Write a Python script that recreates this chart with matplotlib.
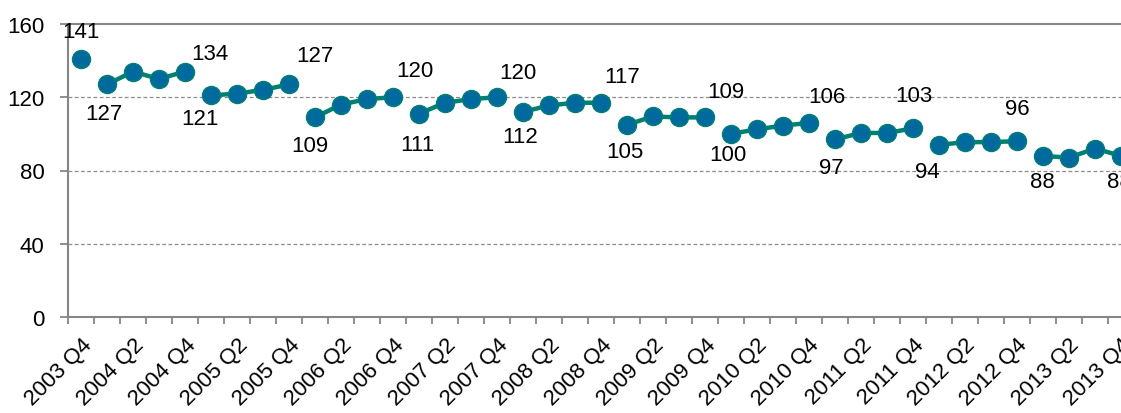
import matplotlib
matplotlib.use("Agg")
import matplotlib.pyplot as plt

# quarters 2003 Q4 .. 2013 Q4
quarters = ['2003 Q4'] + [f'{y} Q{q}' for y in range(2004, 2014) for q in range(1, 5)]
values = [141,
          127, 134, 130, 134,
          121, 122, 124, 127,
          109, 116, 119, 120,
          111, 117, 119, 120,
          112, 115.5, 117, 117,
          105, 109.5, 109, 109,
          100, 102.5, 104.5, 106,
          97, 100.5, 100.5, 103,
          94, 95.5, 95.5, 96,
          88, 87, 92, 88]

# segments: each calendar year drawn as its own line
segments = [(0, 1)] + [(1 + 4 * k, 5 + 4 * k) for k in range(10)]

# labelled points (index) and label offsets in pixels
label_idx = [0, 1, 4, 5, 8, 9, 12, 13, 16, 17, 20, 21, 24, 25, 28, 29, 32, 33, 36, 37, 40]
label_off = [(0, 27), (-3, -29), (25, 18), (-11, -23), (26, 29), (-5, -28),
             (22, 27), (-2, -31), (21, 25), (-3, -25), (21, 26), (-2, -27),
             (21, 26), (-3, -21), (18, 26), (-4, -28), (1, 33), (-12, -27),
             (0, 33), (-1, -26), (-2, -26)]

blue = '#006a9e'
teal = '#00806e'
grey = '#868686'
fs = 16

plt.rcParams['font.family'] = ['Liberation Sans', 'DejaVu Sans']
fig = plt.figure(figsize=(11.21, 4.14), dpi=100)
W, H = 1121, 414
left, right, top, bottom = 68, 1134, 25, 318
ax = fig.add_axes([left / W, 1 - bottom / H, (right - left) / W, (bottom - top) / H])

n = len(values)
ax.set_xlim(-0.5, n - 0.5)
ax.set_ylim(0, 160)
ax.set_yticks([0, 40, 80, 120, 160])
ax.set_xticks([i - 0.5 for i in range(n + 1)], minor=True)
ax.set_xticks(range(0, n, 2))
ax.set_xticklabels(quarters[::2], rotation=45, ha='right', rotation_mode='anchor')
ax.tick_params(axis='x', which='major', length=0, pad=12, labelsize=fs)
ax.tick_params(axis='x', which='minor', length=5, width=1.3, color=grey, direction='out')
ax.tick_params(axis='y', length=6, width=1.3, color=grey, labelsize=fs, pad=11)
for y in [40, 80, 120]:
    ax.axhline(y, color='#8c8c8c', lw=0.9, ls=(0, (3, 2)), zorder=0)
for s in ['left', 'bottom', 'top']:
    ax.spines[s].set_color(grey)
    ax.spines[s].set_linewidth(1.5)
ax.spines['right'].set_visible(False)

for a, b in segments:
    xs = list(range(a, b))
    ax.plot(xs, values[a:b], color=teal, lw=3.2, marker='o', ms=13,
            mfc=blue, mec=teal, mew=1.0, clip_on=False, zorder=3)

for i, (dx, dy) in zip(label_idx, label_off):
    ax.annotate(f'{values[i]:.0f}', (i, values[i]), xytext=(dx, dy),
                textcoords='offset pixels', ha='center', va='center',
                fontsize=fs, color='black', annotation_clip=False)

fig.savefig('out.png', dpi=100)
